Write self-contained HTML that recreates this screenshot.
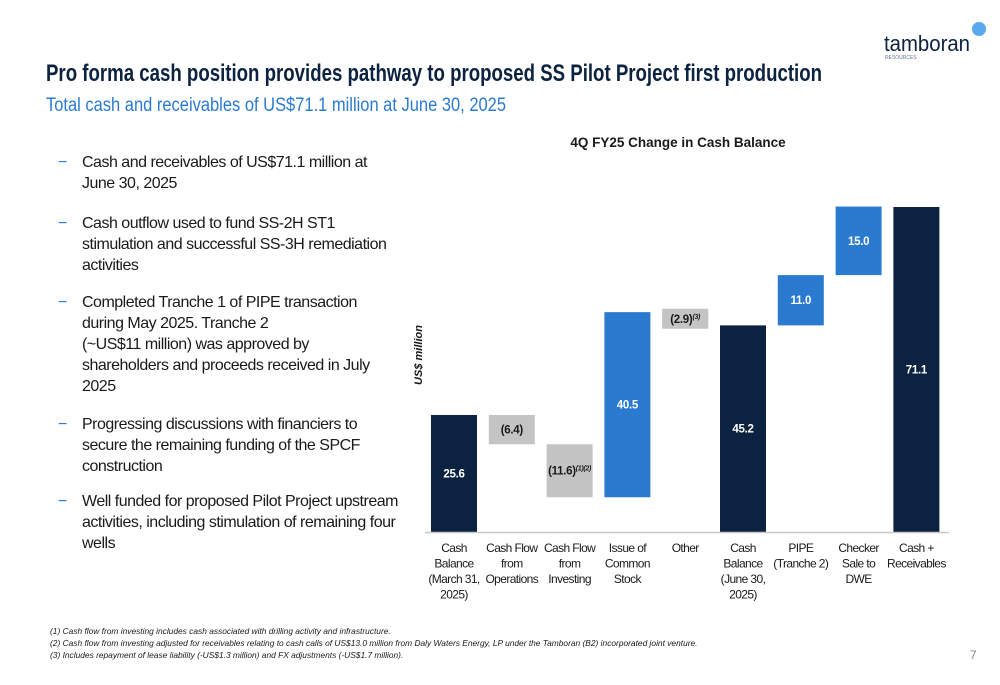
<!DOCTYPE html>
<html><head><meta charset="utf-8"><style>
html,body{margin:0;padding:0;background:#fff;}
body{width:1000px;height:685px;position:relative;overflow:hidden;font-family:"Liberation Sans",Arial,sans-serif;}
.bul{position:absolute;left:58px;width:360px;font-size:16px;line-height:21px;color:#1a1a1a;white-space:nowrap;}
.bul span.d{position:absolute;left:0;top:0;color:#2a7bd0;}
.bul div{margin-left:24px;letter-spacing:-0.5px;}
.fn{position:absolute;left:50px;font-size:8.4px;font-style:italic;color:#1a1a1a;}
</style></head><body>
<svg width="1000" height="685" style="position:absolute;left:0;top:0">
  <text x="46" y="81" font-family="Liberation Sans" font-weight="bold" font-size="24" fill="#0b2240" textLength="776" lengthAdjust="spacingAndGlyphs">Pro forma cash position provides pathway to proposed SS Pilot Project first production</text>
  <text x="46" y="111" font-family="Liberation Sans" font-size="19" fill="#2a7bd0" textLength="460" lengthAdjust="spacingAndGlyphs">Total cash and receivables of US$71.1 million at June 30, 2025</text>
  <g>
    <text x="884" y="51" font-family="Liberation Sans" font-size="22" fill="#0b2240" textLength="86" lengthAdjust="spacingAndGlyphs">tamboran</text>
    <text x="885" y="59" font-family="Liberation Sans" font-size="5" fill="#6a7a90">RESOURCES</text>
    <circle cx="979" cy="29" r="7" fill="#5aa8ee"/>
  </g>
  <text x="970" y="659" font-family="Liberation Sans" font-size="12" fill="#888">7</text>
</svg>

<div class="bul" style="top:152px"><span class="d">−</span><div>Cash and receivables of US$71.1 million at<br>June 30, 2025</div></div>
<div class="bul" style="top:213px"><span class="d">−</span><div>Cash outflow used to fund SS-2H ST1<br>stimulation and successful SS-3H remediation<br>activities</div></div>
<div class="bul" style="top:292px"><span class="d">−</span><div>Completed Tranche 1 of PIPE transaction<br>during May 2025. Tranche 2<br>(~US$11 million) was approved by<br>shareholders and proceeds received in July<br>2025</div></div>
<div class="bul" style="top:414px"><span class="d">−</span><div>Progressing discussions with financiers to<br>secure the remaining funding of the SPCF<br>construction</div></div>
<div class="bul" style="top:491px"><span class="d">−</span><div>Well funded for proposed Pilot Project upstream<br>activities, including stimulation of remaining four<br>wells</div></div>

<div class="fn" style="top:626px">(1) Cash flow from investing includes cash associated with drilling activity and infrastructure.</div>
<div class="fn" style="top:638px">(2) Cash flow from investing adjusted for receivables relating to cash calls of US$13.0 million from Daly Waters Energy, LP under the Tamboran (B2) incorporated joint venture.</div>
<div class="fn" style="top:650px">(3) Includes repayment of lease liability (-US$1.3 million) and FX adjustments (-US$1.7 million).</div>

<svg id="chart" width="1000" height="685" style="position:absolute;left:0;top:0"></svg>
<script>
const categories = [["Cash","Balance","(March 31,","2025)"],["Cash Flow","from","Operations"],["Cash Flow","from","Investing"],["Issue of","Common","Stock"],["Other"],["Cash","Balance","(June 30,","2025)"],["PIPE","(Tranche 2)"],["Checker","Sale to","DWE"],["Cash +","Receivables"]];
const values = [25.6, -6.4, -11.6, 40.5, -2.9, 45.2, 11.0, 15.0, 71.1];
const kinds = ["total","neg","neg","pos","neg","total","pos","pos","total"];
const labels = ["25.6","(6.4)","(11.6)","40.5","(2.9)","45.2","11.0","15.0","71.1"];
const supers = ["","","(1)(2)","","(3)","","","",""];

const svg = document.getElementById('chart');
const NS = 'http://www.w3.org/2000/svg';
const baseY = 532, scale = 325/71.1, x0 = 431, pitch = 57.8, bw = 46;
const y = v => baseY - v*scale;
const colors = {total:'#0b2240', pos:'#2a7bd0', neg:'#c4c4c4'};
function mk(tag, attrs){const e=document.createElementNS(NS,tag);for(const k in attrs)e.setAttribute(k,attrs[k]);svg.appendChild(e);return e;}

const ttl = mk('text',{x:678,y:147,'text-anchor':'middle','font-family':'Liberation Sans','font-size':13.5,'font-weight':'bold',fill:'#1a1a1a'});
ttl.textContent='4Q FY25 Change in Cash Balance';


const yt = mk('text',{x:0,y:0,transform:'translate(422,355) rotate(-90)','text-anchor':'middle','font-family':'Liberation Sans','font-size':11,'font-weight':'bold','font-style':'italic',fill:'#1a1a1a'});
yt.textContent='US$ million';



let run = 0;
values.forEach((v,i)=>{
  let lo, hi;
  if(kinds[i]==='total'){lo=0;hi=v;run=v;}
  else {const s=run; run=run+v; lo=Math.min(s,run); hi=Math.max(s,run);}
  const x = x0 + i*pitch;
  let top=y(hi), h=y(lo)-y(hi);
  const r = mk('rect',{x:x,y:top,width:bw,height:h,fill:colors[kinds[i]]});
  
  
  const cy = top + h/2;
  if(kinds[i]==='neg' && h<20){
    const b = mk('rect',{x:x,y:cy-10,width:bw,height:20,fill:colors.neg});
    
    
  }
  const t = mk('text',{x:x+bw/2,y:cy+4,'text-anchor':'middle','font-family':'Liberation Sans','font-size':11.5,'font-weight':'bold',fill:kinds[i]==='neg'?'#1a1a1a':'#fff','letter-spacing':-0.3});
  t.textContent = labels[i];
  if(supers[i]){const ts=document.createElementNS(NS,'tspan');ts.setAttribute('font-size',7);ts.setAttribute('font-style','italic');ts.setAttribute('dy',-4);ts.textContent=supers[i];t.appendChild(ts);}
  
  
  categories[i].forEach((ln,j)=>{
    const c = mk('text',{x:x+bw/2,y:552+j*15.5,'text-anchor':'middle','font-family':'Liberation Sans','font-size':12,fill:'#1a1a1a','letter-spacing':-0.6});
    c.textContent = ln;
    
    
  });
});
const ax = mk('line',{x1:425,x2:949,y1:baseY+0.5,y2:baseY+0.5,stroke:'#c8c8c8','stroke-width':1.5});


</script>
</body></html>
